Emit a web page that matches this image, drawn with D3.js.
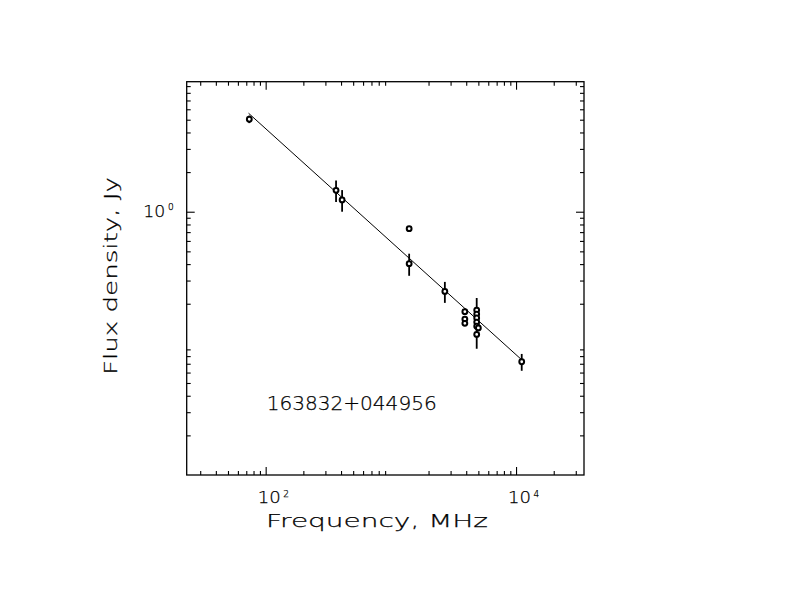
<!DOCTYPE html>
<html><head><meta charset="utf-8">
<script src="https://cdn.jsdelivr.net/npm/d3@7"></script>
<style>
body{margin:0;background:#fff}
text{font-family:"DejaVu Sans","Liberation Sans",sans-serif;font-weight:200;fill:#000;stroke:#000;stroke-width:0.25}
</style>
</head><body><svg id="c" width="792" height="612"></svg>
<script>
// ---- data ----
const frequencies = [74, 365, 408, 1400, 1400, 2700, 3900, 3900, 3900, 4850, 4850, 4850, 4850, 4850, 4850, 5000, 11100];
const fluxes      = [5.04, 1.455, 1.23, 0.743, 0.403, 0.248, 0.174, 0.153, 0.142, 0.179, 0.167, 0.156, 0.145, 0.135, 0.117, 0.131, 0.0725];
const fluxErrors  = [0.33, 0.27, 0.23, 0, 0.077, 0.045, 0.01, 0, 0, 0, 0, 0.065, 0, 0, 0, 0, 0.0106];
const fitFreq = [73, 11170];
const fitFlux = [5.6, 0.0746];
const xMajorTicks = [100, 10000];
const xMajorExponents = ["2", "4"];
const yMajorTicks = [1];
const yMajorExponents = ["0"];
const xDomain = [23.4, 34900];
const yDomain = [0.01, 9.72];
const sourceName = "163832+044956";
const xTitle = "Frequency, MHz";
const yTitle = "Flux density, Jy";

// ---- layout ----
const L = 186.7, R = 584, T = 81.7, B = 475;
const svg = d3.select("#c");
const x = d3.scaleLog().domain(xDomain).range([L, R]);
const y = d3.scaleLog().domain(yDomain).range([B, T]);

const isMajor = v => Math.abs(Math.log10(v) - Math.round(Math.log10(v))) < 1e-9;
const xAll = x.ticks().filter(v => v >= xDomain[0] && v <= xDomain[1]);
const yAll = y.ticks().filter(v => v >= yDomain[0] && v <= yDomain[1]);
const xMinor = xAll.filter(v => !isMajor(v));
const yMinor = yAll.filter(v => !isMajor(v));

function axisPair(gen, scale, major, minor, tr) {
  const g1 = svg.append("g").attr("transform", tr)
    .call(gen(scale).tickValues(major).tickSize(-8).tickSizeOuter(0).tickFormat(""));
  const g2 = svg.append("g").attr("transform", tr)
    .call(gen(scale).tickValues(minor).tickSize(-4).tickSizeOuter(0).tickFormat(""));
  [g1, g2].forEach(g => {
    g.select(".domain").remove();
    g.selectAll("line").attr("stroke", "#000").attr("stroke-width", 1.1);
  });
}
axisPair(d3.axisBottom, x, xMajorTicks, xMinor, `translate(0,${B})`);
axisPair(d3.axisTop, x, xMajorTicks, xMinor, `translate(0,${T})`);
axisPair(d3.axisLeft, y, yMajorTicks, yMinor, `translate(${L},0)`);
axisPair(d3.axisRight, y, yMajorTicks, yMinor, `translate(${R},0)`);

svg.append("rect").attr("x", L).attr("y", T).attr("width", R - L).attr("height", B - T)
  .attr("fill", "none").attr("stroke", "#000").attr("stroke-width", 1.3);

// tick labels with superscripts
xMajorTicks.forEach((v, i) => {
  const px = x(v);
  svg.append("text").attr("x", px - 8).attr("y", 503.3).attr("font-size", 16.5)
    .attr("textLength", 23).attr("lengthAdjust", "spacingAndGlyphs").text("10");
  svg.append("text").attr("x", px + 17.5).attr("y", 497).attr("font-size", 9)
    .text(xMajorExponents[i]);
});
yMajorTicks.forEach((v, i) => {
  const py = y(v);
  svg.append("text").attr("x", 143.3).attr("y", py + 5).attr("font-size", 16.5)
    .attr("textLength", 22).attr("lengthAdjust", "spacingAndGlyphs").text("10");
  svg.append("text").attr("x", 168).attr("y", py - 2).attr("font-size", 9)
    .text(yMajorExponents[i]);
});

// titles
svg.append("text").attr("x", 266).attr("y", 526.7).attr("font-size", 18.3)
  .attr("textLength", 222).attr("lengthAdjust", "spacingAndGlyphs").text(xTitle);
svg.append("text").attr("transform", "translate(116.7,375) rotate(-90)").attr("font-size", 18.3)
  .attr("textLength", 198).attr("lengthAdjust", "spacingAndGlyphs").text(yTitle);
svg.append("text").attr("x", 266.7).attr("y", 410.3).attr("font-size", 19)
  .attr("textLength", 170).attr("lengthAdjust", "spacingAndGlyphs").text(sourceName);

// fit line
const fitData = fitFreq.map((f, i) => [f, fitFlux[i]]);
svg.append("path").datum(fitData)
  .attr("d", d3.line().x(d => x(d[0])).y(d => y(d[1])))
  .attr("fill", "none").attr("stroke", "#000").attr("stroke-width", 1);

// data points
const pts = frequencies.map((f, i) => ({ f, s: fluxes[i], e: fluxErrors[i] }));
svg.append("g").selectAll("line").data(pts.filter(d => d.e > 0)).join("line")
  .attr("x1", d => x(d.f)).attr("x2", d => x(d.f))
  .attr("y1", d => y(d.s + d.e)).attr("y2", d => y(d.s - d.e))
  .attr("stroke", "#000").attr("stroke-width", 1.8);
svg.append("g").selectAll("circle").data(pts).join("circle")
  .attr("cx", d => x(d.f)).attr("cy", d => y(d.s)).attr("r", 2.4)
  .attr("fill", "#fff").attr("stroke", "#000").attr("stroke-width", 2);
</script>
</body></html>
